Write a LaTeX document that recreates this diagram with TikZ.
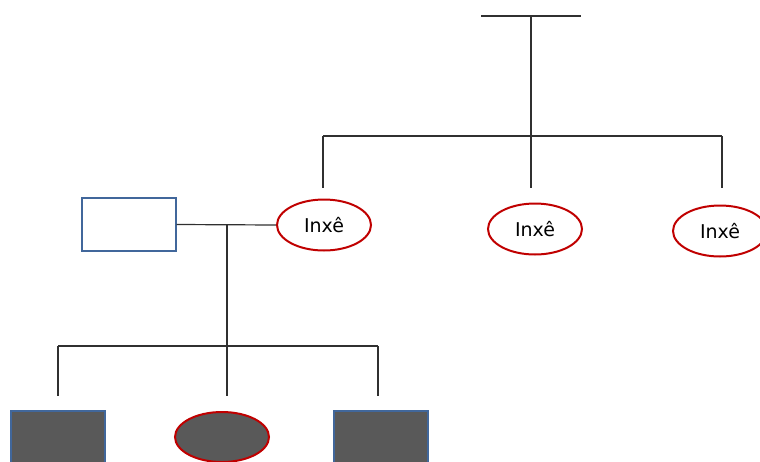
\documentclass[tikz,border=0pt]{standalone}
\usepackage{fontspec}
\setmainfont{DejaVu Sans}
\usetikzlibrary{shapes.geometric}
\definecolor{famred}{HTML}{C00000}
\definecolor{famblue}{HTML}{41679B}
\definecolor{famgrey}{HTML}{595959}
\definecolor{famline}{HTML}{303030}
\tikzset{
  female/.style={ellipse, draw=famred, line width=2pt, inner sep=0pt,
    minimum width=94pt, minimum height=51pt, font=\fontsize{19}{21}\selectfont},
  male/.style={rectangle, draw=famblue, line width=2pt, inner sep=0pt,
    minimum width=94pt, minimum height=53pt},
  filled/.style={fill=famgrey},
  link/.style={draw=famline, line width=1.2pt},
}
\begin{document}
\begin{tikzpicture}[x=1pt,y=-1pt]
\useasboundingbox (0,0) rectangle (760,461);
\clip (0,0) rectangle (760,461);
% generation of the parents
\coordinate (topL) at (481,16);
\coordinate (topR) at (581,16);
\coordinate (topM) at (531,16);
\coordinate (sibbar) at (531,136);
\coordinate (sibL) at (323,136);
\coordinate (sibR) at (722,136);
% siblings
\node[female] (s1) at (324,225) {Inxê};
\node[female] (s2) at (535,229) {Inxê};
\node[female] (s3) at (720,231) {Inxê};
\node[male] (h) at (128.5,224.5) {};
% children
\node[male, filled] (c1) at (58,437.5) {};
\node[female, filled, minimum height=50pt] (c2) at (222,437) {};
\node[male, filled] (c3) at (380.5,437.5) {};
% connectors
\coordinate (s1top) at (323,188);
\coordinate (s2top) at (531,188);
\coordinate (s3top) at (722,188);
\path[link] (topL) -- (topR);
\path[link] (topM) -- (s2top);
\path[link] (sibL) -- (sibR);
\path[link] (sibL) -- (s1top);
\path[link] (sibR) -- (s3top);
% marriage and descent
\coordinate (mid) at (227,225);
\coordinate (kidbar) at (227,346);
\coordinate (kidL) at (58,346);
\coordinate (kidR) at (378,346);
\coordinate (k1) at (58,396);
\coordinate (k2) at (227,396);
\coordinate (k3) at (378,396);
\path[link] (h.east) -- (s1.west);
\path[link] (mid) -- (kidbar);
\path[link] (kidL) -- (kidR);
\path[link] (kidL) -- (k1);
\path[link] (kidbar) -- (k2);
\path[link] (kidR) -- (k3);
\end{tikzpicture}
\end{document}
